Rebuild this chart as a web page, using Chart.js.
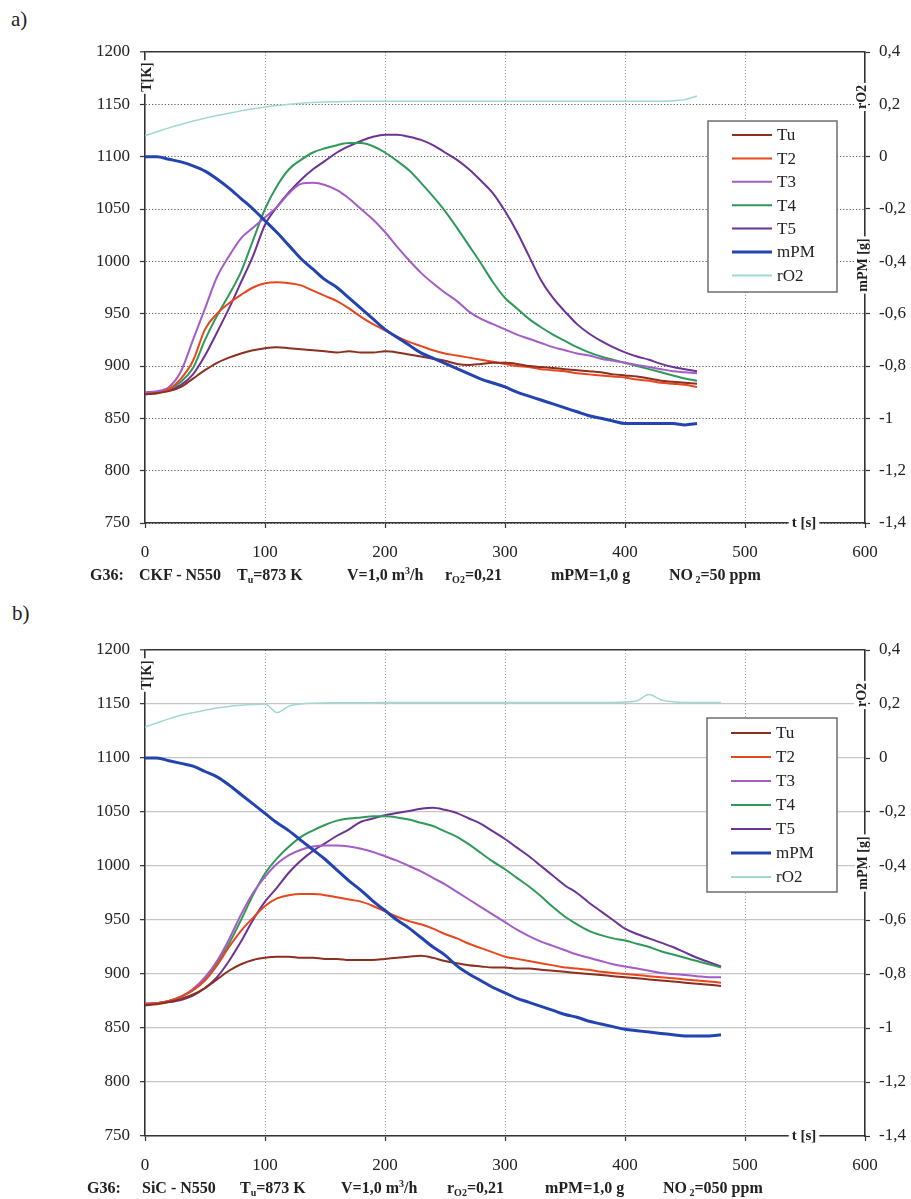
<!DOCTYPE html>
<html><head><meta charset="utf-8">
<script src="https://cdn.jsdelivr.net/npm/chart.js@4.4.1/dist/chart.umd.min.js"></script>
<style>
html,body{margin:0;padding:0;background:#fff;width:911px;height:1199px;overflow:hidden;}
#wrap{position:relative;width:911px;height:1199px;}
canvas{position:absolute;left:0;}
.lbl{position:absolute;font-family:'Liberation Serif',serif;color:#222;font-size:21px;line-height:24px}
.foot{position:absolute;font-family:'Liberation Serif',serif;font-weight:bold;font-size:16px;color:#222;white-space:nowrap;line-height:18px}
.foot sub{font-size:10px;vertical-align:-3px;line-height:0}
.foot sup{font-size:10px;vertical-align:6px;line-height:0}
</style></head><body>
<div id="wrap">
<div class="lbl" style="left:11px;top:7px">a)</div>
<canvas id="ca" width="911" height="595" style="top:0"></canvas>
<div class="foot" style="top:566px;left:90px">G36:</div>
<div class="foot" style="top:566px;left:139px">CKF - N550</div>
<div class="foot" style="top:566px;left:237px">T<sub>u</sub>=873 K</div>
<div class="foot" style="top:566px;left:347px">V=1,0 m<sup>3</sup>/h</div>
<div class="foot" style="top:566px;left:445px">r<sub>O2</sub>=0,21</div>
<div class="foot" style="top:566px;left:551px">mPM=1,0 g</div>
<div class="foot" style="top:566px;left:669px">NO<sub> 2</sub>=50 ppm</div>

<div class="lbl" style="left:12px;top:601px">b)</div>
<canvas id="cb" width="911" height="604" style="top:595px"></canvas>
<div class="foot" style="top:1179px;left:87px">G36:</div>
<div class="foot" style="top:1179px;left:142px">SiC - N550</div>
<div class="foot" style="top:1179px;left:240px">T<sub>u</sub>=873 K</div>
<div class="foot" style="top:1179px;left:341px">V=1,0 m<sup>3</sup>/h</div>
<div class="foot" style="top:1179px;left:447px">r<sub>O2</sub>=0,21</div>
<div class="foot" style="top:1179px;left:545px">mPM=1,0 g</div>
<div class="foot" style="top:1179px;left:663px">NO<sub> 2</sub>=050 ppm</div>
</div>
<script>
// ---------- categories ----------
const seriesNames = ['Tu','T2','T3','T4','T5','mPM','rO2'];
const seriesColors = ['#8c2f1e','#e8461c','#a45cc6','#2f9a58','#6c3394','#2344b0','#a2d8cf'];

// ---------- chart a) time [s] ----------
const tA = [0,10,20,30,40,50,60,70,80,90,100,110,120,130,140,150,160,170,180,190,200,210,220,230,240,250,260,270,280,290,300,310,320,330,340,350,360,370,380,390,400,410,420,430,440,450,460];
const TuA = [873,874,876,880,888,896,903,908,912,915,917,918,917,916,915,914,913,914,913,913,914,913,911,909,907,905,902,901,902,903,903,902,900,899,898,897,896,895,894,892,891,890,888,886,885,884,883];
const T2A = [873,874,878,888,905,935,950,960,968,975,979,980,979,977,972,967,962,955,947,940,934,928,923,919,915,912,910,908,906,904,902,900,899,897,896,895,893,892,891,890,889,887,886,884,883,882,880];
const T3A = [875,876,880,895,925,955,985,1005,1022,1032,1042,1052,1065,1074,1075,1073,1068,1060,1050,1040,1028,1014,1001,989,979,970,962,952,945,940,935,930,926,922,918,915,912,910,907,905,903,901,899,897,895,894,893];
const T4A = [874,875,878,885,898,925,948,968,990,1020,1050,1072,1088,1097,1104,1108,1111,1113,1113,1110,1104,1096,1087,1075,1062,1048,1032,1015,998,980,965,955,945,937,930,924,918,913,909,906,903,900,897,894,891,888,886];
const T5A = [874,875,877,882,892,910,932,955,980,1005,1035,1052,1066,1078,1088,1096,1104,1110,1115,1119,1121,1121,1119,1116,1111,1104,1097,1088,1077,1065,1048,1028,1005,982,965,952,940,931,924,918,913,909,906,902,899,897,895];
const mPMA = [0,0,-0.01,-0.02,-0.035,-0.055,-0.085,-0.12,-0.16,-0.2,-0.245,-0.29,-0.34,-0.39,-0.43,-0.47,-0.5,-0.54,-0.58,-0.62,-0.66,-0.69,-0.72,-0.75,-0.77,-0.79,-0.81,-0.83,-0.85,-0.865,-0.88,-0.9,-0.915,-0.93,-0.945,-0.96,-0.975,-0.99,-1.0,-1.01,-1.02,-1.02,-1.02,-1.02,-1.02,-1.025,-1.02];
const rO2A = [0.08,0.095,0.11,0.123,0.136,0.147,0.157,0.166,0.175,0.183,0.19,0.196,0.2,0.204,0.207,0.209,0.21,0.211,0.212,0.212,0.212,0.212,0.212,0.212,0.212,0.212,0.212,0.212,0.212,0.212,0.212,0.212,0.212,0.212,0.212,0.212,0.212,0.212,0.212,0.212,0.212,0.212,0.212,0.212,0.214,0.218,0.232];

// ---------- chart b) time [s] ----------
const tB = [0,10,20,30,40,50,60,70,80,90,100,110,120,130,140,150,160,170,180,190,200,210,220,230,240,250,260,270,280,290,300,310,320,330,340,350,360,370,380,390,400,410,420,430,440,450,460,470,480];
const TuB = [871,872,874,877,881,887,895,903,909,913,915,916,916,915,915,914,914,913,913,913,914,915,916,917,915,912,910,908,907,906,906,905,905,904,903,902,901,900,899,898,897,896,895,894,893,892,891,890,889];
const T2B = [872,873,875,879,885,894,908,925,940,952,963,970,973,974,974,973,971,969,967,963,958,953,949,946,942,937,933,928,924,920,916,914,912,910,908,906,905,904,902,901,900,899,898,897,896,895,894,893,892];
const T3B = [873,873,875,879,886,897,912,932,955,975,990,1002,1010,1015,1018,1019,1019,1018,1016,1013,1009,1005,1000,995,989,983,976,969,962,955,948,941,935,930,926,922,918,915,912,909,907,905,903,901,900,899,898,897,897];
const T4B = [872,873,875,879,885,895,910,928,950,973,993,1007,1018,1027,1033,1038,1042,1044,1045,1046,1046,1045,1043,1040,1037,1032,1027,1020,1012,1004,997,989,981,972,962,953,946,940,936,933,931,928,925,921,918,915,912,909,906];
const T5B = [872,873,874,876,880,887,897,912,930,950,967,980,994,1005,1014,1021,1028,1034,1041,1044,1047,1049,1051,1053,1054,1052,1049,1044,1039,1032,1025,1017,1009,1000,991,982,975,966,958,950,942,937,933,929,925,920,915,911,907];
const mPMB = [0,0,-0.01,-0.02,-0.03,-0.05,-0.07,-0.1,-0.135,-0.17,-0.205,-0.24,-0.27,-0.305,-0.34,-0.375,-0.415,-0.455,-0.49,-0.53,-0.565,-0.6,-0.63,-0.665,-0.7,-0.73,-0.77,-0.8,-0.825,-0.85,-0.87,-0.89,-0.905,-0.92,-0.935,-0.95,-0.96,-0.975,-0.985,-0.995,-1.005,-1.01,-1.015,-1.02,-1.025,-1.03,-1.03,-1.03,-1.025];
const rO2B = [0.115,0.13,0.145,0.158,0.168,0.177,0.185,0.191,0.195,0.198,0.2,0.168,0.192,0.2,0.203,0.204,0.205,0.205,0.205,0.205,0.206,0.206,0.206,0.206,0.206,0.206,0.206,0.206,0.206,0.206,0.206,0.206,0.206,0.206,0.206,0.206,0.206,0.206,0.206,0.206,0.207,0.212,0.235,0.216,0.208,0.206,0.206,0.206,0.206];

// ---------- axis ticks ----------
const tempMin = 750, tempMax = 1200, tempStep = 50;
const rightMin = -1.4, rightMax = 0.4, rightStep = 0.2;
const timeMin = 0, timeMax = 600, timeStep = 100;

const FONT = 'Liberation Serif';

const deco = {
  id: 'deco',
  afterDraw(chart, args, o) {
    const {ctx, chartArea: ca} = chart;
    const rot = (txt, x, y) => {
      ctx.save();
      ctx.translate(x, y);
      ctx.rotate(-Math.PI / 2);
      ctx.font = 'bold 14px "' + FONT + '"';
      const w = ctx.measureText(txt).width;
      ctx.fillStyle = '#fff';
      ctx.fillRect(-w / 2 - 2, -7, w + 4, 14);
      ctx.fillStyle = '#222';
      ctx.textAlign = 'center';
      ctx.textBaseline = 'middle';
      ctx.fillText(txt, 0, 1);
      ctx.restore();
    };
    rot('T[K]', ca.left + 1, ca.top + 25);
    rot('rO2', ca.right - 4, ca.top + 45);
    rot('mPM [g]', ca.right - 3, ca.top + 213);
    ctx.save();
    ctx.font = 'bold 15px "' + FONT + '"';
    const tw = ctx.measureText('t [s]').width;
    const cx = ca.left + 659;
    ctx.fillStyle = '#fff';
    ctx.fillRect(cx - tw / 2 - 3, ca.bottom - 3, tw + 6, 6);
    ctx.fillStyle = '#222';
    ctx.textAlign = 'center';
    ctx.textBaseline = 'middle';
    ctx.fillText('t [s]', cx, ca.bottom);
    // legend
    const L = o.box;
    ctx.fillStyle = '#fff';
    ctx.fillRect(L.x, L.y, L.w, L.h);
    ctx.strokeStyle = '#6e6e6e';
    ctx.lineWidth = 1.5;
    ctx.strokeRect(L.x, L.y, L.w, L.h);
    ctx.font = '17px "' + FONT + '"';
    ctx.textAlign = 'left';
    chart.data.datasets.forEach((ds, i) => {
      const y = L.y + L.first + i * L.row;
      ctx.strokeStyle = ds.borderColor;
      ctx.lineWidth = i === 5 ? 3 : 2;
      ctx.beginPath();
      ctx.moveTo(L.x + 24, y);
      ctx.lineTo(L.x + 64, y);
      ctx.stroke();
      ctx.fillStyle = '#222';
      ctx.fillText(ds.label, L.x + 69, y + 1);
    });
    ctx.restore();
  }
};

function buildDatasets(t, series) {
  return series.map((arr, i) => ({
    label: seriesNames[i],
    data: t.map((x, k) => ({x: x, y: arr[k]})),
    yAxisID: i >= 5 ? 'y1' : 'y',
    borderColor: seriesColors[i],
    backgroundColor: seriesColors[i],
    borderWidth: i === 5 ? 3 : (i === 6 ? 1.5 : 2),
    pointRadius: 0,
    cubicInterpolationMode: 'monotone',
    fill: false,
    order: i === 5 ? 0 : (i === 6 ? 2 : 1)
  }));
}

function fmtRight(v) {
  const r = Math.round(v * 10) / 10;
  return String(r).replace('.', ',');
}

function makeChart(id, t, series, styleB, pad, box) {
  const tickFont = {family: FONT, size: 17};
  const hColor = styleB ? '#c6c6c6' : '#5a5a5a';
  return new Chart(document.getElementById(id), {
    type: 'line',
    data: {datasets: buildDatasets(t, series)},
    options: {
      responsive: false,
      animation: false,
      layout: {padding: pad},
      plugins: {legend: {display: false}, tooltip: {enabled: false}, deco: {box: box}},
      scales: {
        x: {
          type: 'linear', min: timeMin, max: timeMax,
          afterFit: s => { s.height = 40; },
          ticks: {stepSize: timeStep, font: tickFont, color: '#222', padding: 14, maxRotation: 0, callback: v => String(v)},
          grid: {
            color: c => (c.tick && (c.tick.value === 0 || c.tick.value === 600)) ? 'rgba(0,0,0,0)' : '#9c9c9c',
            lineWidth: 1, tickLength: 5, tickColor: '#333', tickWidth: 1.2, tickBorderDash: []
          },
          border: {display: true, color: '#333', width: 1.6, dash: [1, 2]}
        },
        y: {
          position: 'left', min: tempMin, max: tempMax,
          afterFit: s => { s.width = 145; },
          ticks: {stepSize: tempStep, font: tickFont, color: '#222', padding: 10, callback: v => String(v)},
          grid: {
            color: c => (c.tick && c.tick.value === 1200) ? '#333' : hColor,
            lineWidth: c => (c.tick && c.tick.value === 1200) ? 1.6 : (styleB ? 1.3 : 1),
            tickLength: 5, tickColor: '#333', tickWidth: 1.2, tickBorderDash: []
          },
          border: {display: true, color: '#333', width: 1.6,
            dash: c => (styleB || (c.tick && c.tick.value === 1200)) ? [] : [1.2, 2]}
        },
        y1: {
          position: 'right', min: rightMin, max: rightMax,
          afterFit: s => { s.width = 46; },
          ticks: {stepSize: rightStep, font: tickFont, color: '#222', padding: 9, callback: v => fmtRight(v)},
          grid: {drawOnChartArea: false, tickLength: 5, tickColor: '#333', tickWidth: 1.2},
          border: {display: true, color: '#333', width: 1.6}
        }
      }
    },
    plugins: [deco]
  });
}

makeChart('ca', tA, [TuA, T2A, T3A, T4A, T5A, mPMA, rO2A], false,
  {top: 52, left: 0, right: 0, bottom: 32},
  {x: 708, y: 121, w: 129, h: 171, first: 14, row: 23.4});
makeChart('cb', tB, [TuB, T2B, T3B, T4B, T5B, mPMB, rO2B], true,
  {top: 55, left: 0, right: 0, bottom: 23},
  {x: 707, y: 123, w: 130, h: 174, first: 15, row: 24});
</script>
</body></html>
